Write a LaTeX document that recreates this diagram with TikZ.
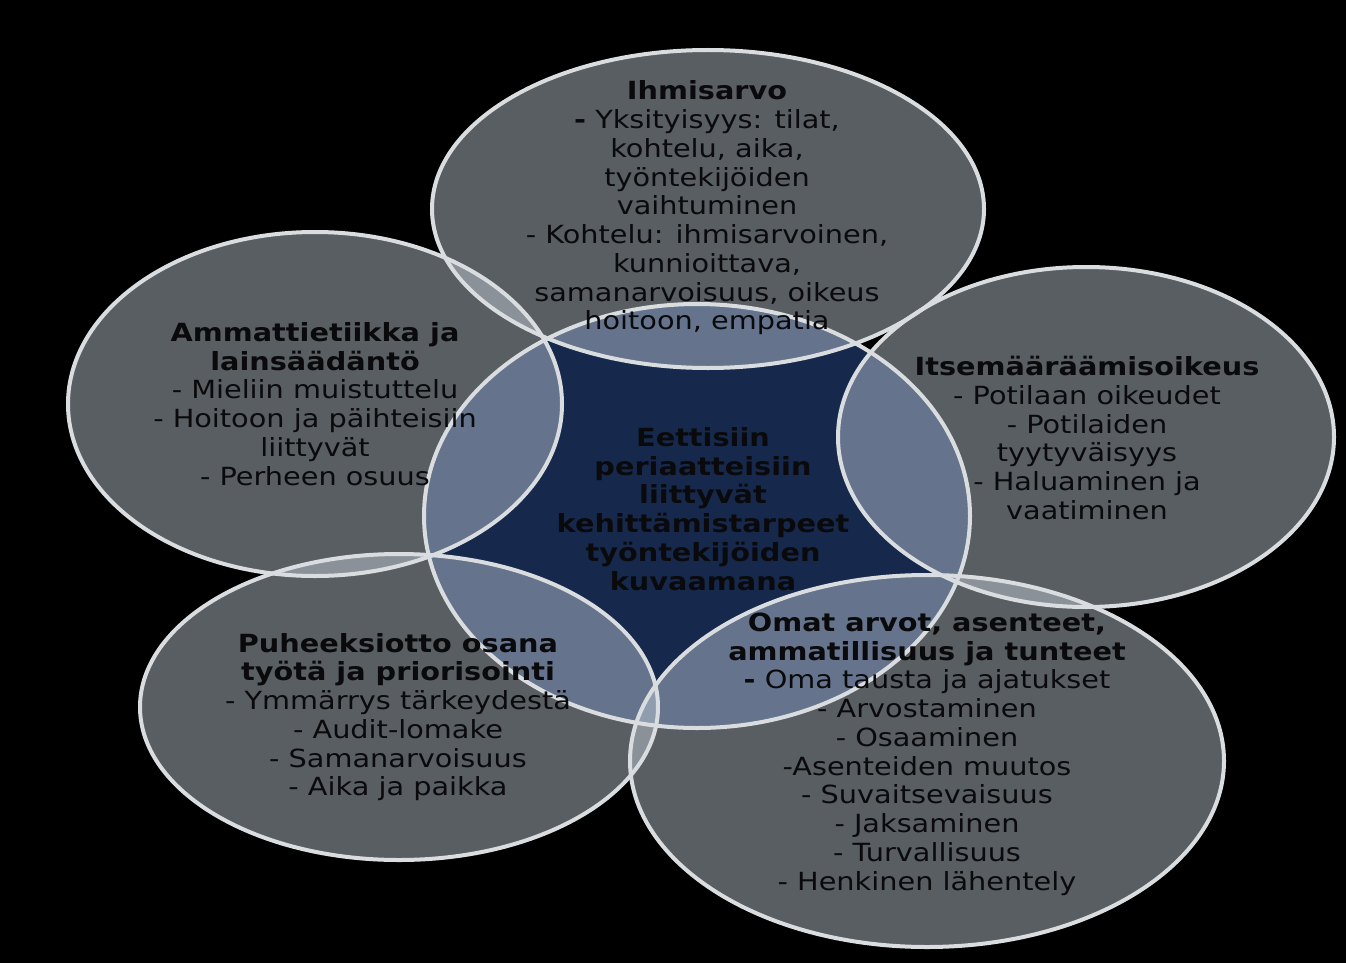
\documentclass[tikz,border=0pt]{standalone}
\usepackage{fontspec}
\setmainfont[FakeStretch=1.15]{DejaVu Sans}
\definecolor{bgblack}{RGB}{0,0,0}
\definecolor{navyc}{RGB}{22,41,77}
\definecolor{outerc}{RGB}{198,209,218}
\definecolor{rimc}{RGB}{218,221,224}
\definecolor{txtc}{RGB}{10,10,12}
\tikzset{
  outerfill/.style={fill=outerc, fill opacity=0.45},
  rim/.style={draw=rimc, line width=4pt},
  label/.style={align=center, text=txtc, inner sep=0pt, font=\fontsize{25}{28.75}\selectfont},
}
\begin{document}
\begin{tikzpicture}[x=1pt,y=-1pt]
\fill[bgblack] (0,0) rectangle (1346,963);
\useasboundingbox (0,0) rectangle (1346,963);
% centre
\fill[navyc] (697,516) ellipse [x radius=273pt, y radius=212pt];
% outer ellipses
\fill[outerfill] (708,209) ellipse [x radius=276pt, y radius=159pt];
\fill[outerfill] (315,404) ellipse [x radius=247pt, y radius=172pt];
\fill[outerfill] (1086,437) ellipse [x radius=248pt, y radius=170pt];
\fill[outerfill] (399,707) ellipse [x radius=259pt, y radius=153pt];
\fill[outerfill] (927,761) ellipse [x radius=297pt, y radius=186pt];
% rims
\draw[rim] (697,516) ellipse [x radius=273pt, y radius=212pt];
\draw[rim] (708,209) ellipse [x radius=276pt, y radius=159pt];
\draw[rim] (315,404) ellipse [x radius=247pt, y radius=172pt];
\draw[rim] (1086,437) ellipse [x radius=248pt, y radius=170pt];
\draw[rim] (399,707) ellipse [x radius=259pt, y radius=153pt];
\draw[rim] (927,761) ellipse [x radius=297pt, y radius=186pt];
% texts
\node[label] (ihm) at (707,208) {\textbf{Ihmisarvo}\\ \textbf{-} Yksityisyys: tilat,\\ kohtelu, aika,\\ työntekijöiden\\ vaihtuminen\\ - Kohtelu: ihmisarvoinen,\\ kunnioittava,\\ samanarvoisuus, oikeus\\ hoitoon, empatia};
\node[label] (amm) at (315,404) {\textbf{Ammattietiikka ja}\\ \textbf{lainsäädäntö}\\ - Mieliin muistuttelu\\ - Hoitoon ja päihteisiin\\ liittyvät\\ - Perheen osuus};
\node[label] (its) at (1087,438) {\textbf{Itsemääräämisoikeus}\\ - Potilaan oikeudet\\ - Potilaiden\\ tyytyväisyys\\ - Haluaminen ja\\ vaatiminen};
\node[label] (cen) at (703,509) {\textbf{Eettisiin}\\ \textbf{periaatteisiin}\\ \textbf{liittyvät}\\ \textbf{kehittämistarpeet}\\ \textbf{työntekijöiden}\\ \textbf{kuvaamana}};
\node[label] (puh) at (398,717) {\textbf{Puheeksiotto osana}\\ \textbf{työtä ja priorisointi}\\ - Ymmärrys tärkeydestä\\ - Audit-lomake\\ - Samanarvoisuus\\ - Aika ja paikka};
\node[label] (oma) at (927,754) {\textbf{Omat arvot, asenteet,}\\ \textbf{ammatillisuus ja tunteet}\\ \textbf{-} Oma tausta ja ajatukset\\ - Arvostaminen\\ - Osaaminen\\ -Asenteiden muutos\\ - Suvaitsevaisuus\\ - Jaksaminen\\ - Turvallisuus\\ - Henkinen lähentely};
\end{tikzpicture}
\end{document}
